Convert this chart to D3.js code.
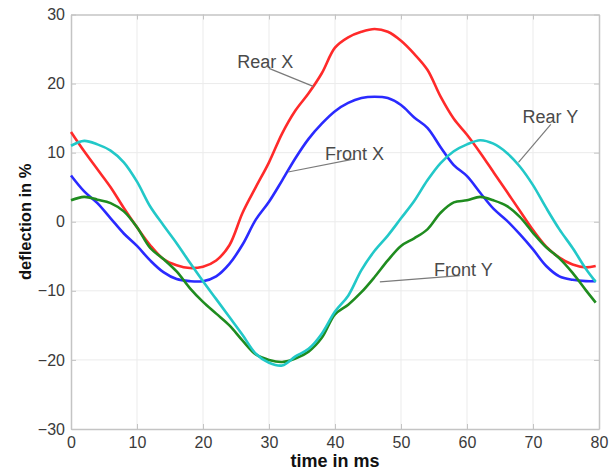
<!DOCTYPE html>
<html>
<head>
<meta charset="utf-8">
<script src="https://cdn.jsdelivr.net/npm/d3@7"></script>
<style>
  html, body { margin: 0; padding: 0; background: #fff; }
  svg { display: block; font-family: "Liberation Sans", Arial, sans-serif; }
</style>
</head>
<body>
<svg id="chart" width="616" height="472"></svg>
<script>
// ---- data (time in ms, deflection in %) ----
const time = [0,2,4,6,8,10,12,14,16,18,20,22,24,26,28,30,32,34,36,38,40,42,44,46,48,50,52,54,56,58,60,62,64,66,68,70,72,74,76,78,79.5];
const rearX  = [13.0,10.2,7.6,5.0,2.0,-0.8,-3.4,-5.4,-6.3,-6.7,-6.5,-5.6,-3.4,1.3,5.0,8.6,12.8,16.1,18.6,21.5,25.2,26.7,27.5,27.9,27.5,26.2,24.3,22.0,18.1,14.9,12.6,10.0,7.2,4.4,1.6,-1.2,-3.6,-5.2,-6.2,-6.6,-6.4];
const frontX = [6.7,4.4,2.7,0.5,-1.7,-3.5,-5.6,-7.3,-8.3,-8.6,-8.6,-7.9,-6.1,-3.3,0.3,2.9,6.0,9.2,12.0,14.2,16.0,17.2,17.9,18.1,17.9,16.9,15.1,13.6,10.8,8.2,6.6,4.2,1.9,0.2,-1.8,-4.0,-6.4,-7.9,-8.4,-8.6,-8.6];
const rearY  = [11.0,11.7,11.2,10.3,8.6,5.8,2.2,-0.5,-3.1,-5.9,-8.6,-11.2,-13.8,-16.4,-19.1,-20.4,-20.8,-19.5,-18.4,-16.2,-13.0,-10.7,-7.0,-4.2,-2.0,0.5,3.0,6.0,8.5,10.2,11.2,11.8,11.3,10.0,8.0,5.3,2.0,-1.1,-3.8,-6.8,-8.7];
const frontY = [3.1,3.6,3.2,2.7,1.5,-0.8,-3.8,-5.4,-7.2,-9.6,-11.6,-13.3,-15.0,-17.2,-19.2,-20.0,-20.3,-19.8,-18.8,-16.8,-13.4,-12.0,-10.2,-8.0,-5.6,-3.5,-2.4,-1.1,1.3,2.8,3.1,3.6,3.1,2.3,0.7,-1.6,-3.7,-5.3,-7.4,-9.9,-11.7];

const seriesNames  = ["Rear X", "Front X", "Front Y", "Rear Y"];
const seriesValues = [rearX, frontX, frontY, rearY];
const seriesColors = ["#ff2a2a", "#2a2aff", "#1f8c1f", "#22c8c8"];

const xTicks = [0,10,20,30,40,50,60,70,80];
const yTicks = [-30,-20,-10,0,10,20,30];

// annotation labels: text left/centre (t, v), pointer start (t, v), pointer end (t, v)
const labels = [
  {name: "Rear X",  tx: 25.2, ty: 23.1, x1: 30.0, y1: 22.2, x2: 36.7, y2: 19.6},
  {name: "Front X", tx: 38.5, ty: 9.8,  x1: 43.0, y1: 9.1,  x2: 32.9, y2: 7.2},
  {name: "Rear Y",  tx: 68.4, ty: 15.2, x1: 72.7, y1: 14.1, x2: 67.8, y2: 8.6},
  {name: "Front Y", tx: 55.0, ty: -7.0, x1: 58.9, y1: -7.8, x2: 46.8, y2: -8.7}
];

// ---- layout ----
const W = 616, H = 472;
const margin = {left: 71, right: 17, top: 14.5, bottom: 43};
const svg = d3.select("#chart");

const x = d3.scaleLinear().domain([0, 80]).range([margin.left, W - margin.right]);
const y = d3.scaleLinear().domain([-30, 30]).range([H - margin.bottom, margin.top]);

const x0 = x.range()[0], x1 = x.range()[1], yb = y.range()[0], yt = y.range()[1];

// grid
svg.append("g").selectAll("line").data(xTicks.slice(1, -1)).join("line")
  .attr("x1", d => x(d)).attr("x2", d => x(d)).attr("y1", yt).attr("y2", yb)
  .attr("stroke", "#ebebeb").attr("stroke-width", 1);
svg.append("g").selectAll("line").data(yTicks.slice(1, -1)).join("line")
  .attr("x1", x0).attr("x2", x1).attr("y1", d => y(d)).attr("y2", d => y(d))
  .attr("stroke", "#ebebeb").attr("stroke-width", 1);

// axes with inward ticks (MATLAB style)
const axisColor = "#c4c4c4";
function styleAxis(g) {
  g.select(".domain").attr("stroke", axisColor).attr("stroke-width", 1.5);
  g.selectAll(".tick line").attr("stroke", axisColor).attr("stroke-width", 1);
  g.selectAll(".tick text").attr("fill", "#3a3a3a").attr("font-size", 16)
    .attr("font-family", "'Liberation Sans', Arial, sans-serif");
}
svg.append("g").attr("transform", `translate(0,${yb})`)
  .call(d3.axisBottom(x).tickValues(xTicks).tickSizeInner(-5).tickSizeOuter(0).tickPadding(8))
  .call(styleAxis);
svg.append("g").attr("transform", `translate(0,${yt})`)
  .call(d3.axisTop(x).tickValues(xTicks).tickSizeInner(-5).tickSizeOuter(0).tickFormat(""))
  .call(styleAxis);
svg.append("g").attr("transform", `translate(${x0},0)`)
  .call(d3.axisLeft(y).tickValues(yTicks).tickSizeInner(-5).tickSizeOuter(0).tickPadding(6))
  .call(styleAxis);
svg.append("g").attr("transform", `translate(${x1},0)`)
  .call(d3.axisRight(y).tickValues(yTicks).tickSizeInner(-5).tickSizeOuter(0).tickFormat(""))
  .call(styleAxis);

// lines
const line = d3.line().x((d, i) => x(time[i])).y(d => y(d)).curve(d3.curveCatmullRom.alpha(0.5));
svg.append("g").selectAll("path").data(seriesValues.map((v, i) => i)).join("path")
  .attr("d", i => line(seriesValues[i]))
  .attr("fill", "none")
  .attr("stroke", i => seriesColors[i])
  .attr("stroke-width", 2.6)
  .attr("stroke-linejoin", "round");

// annotations
const ann = svg.append("g");
ann.selectAll("line").data(labels).join("line")
  .attr("x1", d => x(d.x1)).attr("y1", d => y(d.y1))
  .attr("x2", d => x(d.x2)).attr("y2", d => y(d.y2))
  .attr("stroke", "#7a7a7a").attr("stroke-width", 1.2);
ann.selectAll("text").data(labels).join("text")
  .attr("x", d => x(d.tx)).attr("y", d => y(d.ty))
  .attr("dy", "0.35em")
  .attr("font-size", 18)
  .attr("fill", "#4a4a4a")
  .text(d => d.name);

// axis titles
svg.append("text")
  .attr("x", (x0 + x1) / 2).attr("y", 467)
  .attr("text-anchor", "middle")
  .attr("font-size", 18).attr("font-weight", "bold").attr("fill", "#111")
  .text("time in ms");
svg.append("text")
  .attr("transform", `translate(31,${y(0)}) rotate(-90)`)
  .attr("text-anchor", "middle")
  .attr("font-size", 16.5).attr("font-weight", "bold").attr("fill", "#111")
  .text("deflection in %");
</script>
</body>
</html>
